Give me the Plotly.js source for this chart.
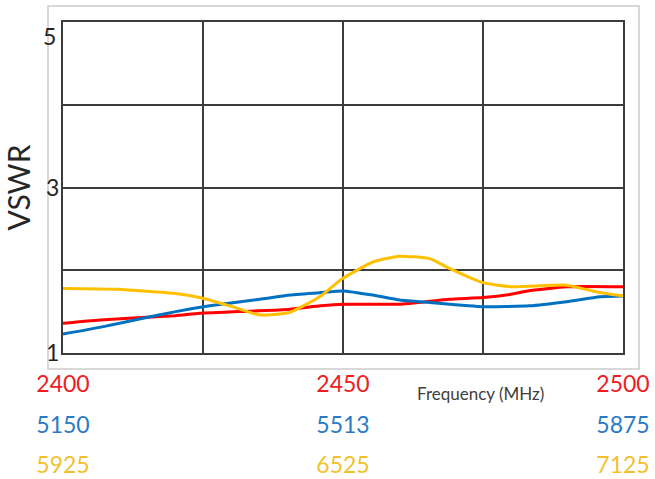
<!DOCTYPE html>
<html>
<head>
<meta charset="utf-8">
<script src="https://cdn.plot.ly/plotly-3.0.1.min.js"></script>
<style>html,body{margin:0;padding:0;background:#fff}#chart{width:655px;height:479px}</style>
</head>
<body>
<div id="chart"></div>
<script>
// 2.4 GHz band (red)
const freq24 = [2400, 2406.6, 2420, 2424.4, 2435, 2440.5, 2446, 2450, 2460, 2469, 2475, 2480, 2483, 2490, 2500];
const vswr24 = [1.36, 1.40, 1.45, 1.48, 1.51, 1.53, 1.57, 1.59, 1.59, 1.65, 1.67, 1.71, 1.75, 1.80, 1.80];
// 5 GHz band (blue)
const freq5 = [5150, 5197.5, 5249, 5296, 5340, 5405, 5444, 5483, 5512.5, 5551, 5586, 5625, 5693.5, 5754, 5802, 5845, 5875];
const vswr5 = [1.23, 1.31, 1.41, 1.50, 1.57, 1.65, 1.70, 1.73, 1.75, 1.70, 1.64, 1.61, 1.56, 1.57, 1.62, 1.68, 1.69];
// 6 GHz band (yellow)
const freq6 = [5925, 6040, 6166, 6218, 6282, 6346, 6410, 6475, 6524, 6589, 6646, 6711, 6754, 6825, 6889, 7004, 7075, 7125];
const vswr6 = [1.78, 1.77, 1.72, 1.67, 1.57, 1.46, 1.49, 1.68, 1.90, 2.10, 2.17, 2.14, 2.02, 1.85, 1.80, 1.82, 1.73, 1.69];

// tick labels
const ticks24 = [2400, 2425, 2450, 2475, 2500];
const tickText24 = ['2400', '', '2450', '', '2500'];
const ticks5 = [5150, 5512.5, 5875];
const tickText5 = ['5150', '5513', '5875'];
const ticks6 = [5925, 6525, 7125];
const tickText6 = ['5925', '6525', '7125'];
const yTicks = [1, 2, 3, 4, 5];
const yTickText = ['1', '', '3', '', ''];
const yTopTick = 5;          // label "5" sits just under the top edge, as in the original
const yTopTickText = '5';

const FONT = 'Lato, "Open Sans", sans-serif';
const RED = '#FF0000', BLUE = '#0070C0', YEL = '#FFC000';
const RED_T = '#EE1D23', BLUE_T = '#2A7AC6', YEL_T = '#F2C22E';

const traces = [
  {x: freq5, y: vswr5, xaxis: 'x2', yaxis: 'y', mode: 'lines', line: {color: BLUE, width: 3, shape: 'spline', smoothing: 0.5}, name: '5 GHz'},
  {x: freq24, y: vswr24, xaxis: 'x', yaxis: 'y', mode: 'lines', line: {color: RED, width: 3, shape: 'spline', smoothing: 0.5}, name: '2.4 GHz'},
  {x: freq6, y: vswr6, xaxis: 'x3', yaxis: 'y', mode: 'lines', line: {color: YEL, width: 3, shape: 'spline', smoothing: 0.5}, name: '6 GHz'}
];

const layout = {
  width: 655, height: 479,
  margin: {l: 63, r: 32, t: 22, b: 0},
  paper_bgcolor: '#fff', plot_bgcolor: '#fff',
  showlegend: false,
  font: {family: FONT, color: '#262626'},
  xaxis: {
    range: [2400, 2500], tickvals: ticks24, ticktext: tickText24,
    showgrid: true, gridcolor: '#3c3c3c', gridwidth: 2,
    showline: true, mirror: true, linecolor: '#3c3c3c', linewidth: 2,
    zeroline: false, ticks: '', ticklabelstandoff: 9,
    tickfont: {family: FONT, size: 23, color: RED_T}, fixedrange: true
  },
  xaxis2: {
    range: [5150, 5875], overlaying: 'x', anchor: 'free', position: 0.153,
    tickvals: ticks5, ticktext: tickText5, showgrid: false, showline: false, zeroline: false, ticks: '',
    tickfont: {family: FONT, size: 23, color: BLUE_T}
  },
  xaxis3: {
    range: [5925, 7125], overlaying: 'x', anchor: 'free', position: 0.0665,
    tickvals: ticks6, ticktext: tickText6, showgrid: false, showline: false, zeroline: false, ticks: '',
    tickfont: {family: FONT, size: 23, color: YEL_T}
  },
  yaxis: {
    domain: [0.2757, 1], range: [1, 5], tickvals: yTicks, ticktext: yTickText,
    showgrid: true, gridcolor: '#3c3c3c', gridwidth: 2,
    showline: true, mirror: true, linecolor: '#3c3c3c', linewidth: 2,
    zeroline: false, ticks: '', ticklabelstandoff: -3,
    tickfont: {family: FONT, size: 23, color: '#262626'},
    title: {text: 'VSWR', font: {family: FONT, size: 30, color: '#262626'}, standoff: 12}
  },
  shapes: [{
    type: 'rect', xref: 'paper', yref: 'paper', layer: 'below',
    x0: -0.0268, x1: 1.0286, y0: 0.2407, y1: 1.035,
    line: {color: '#cccccc', width: 1.5}
  }],
  annotations: [{
    text: 'Frequency (MHz)', xref: 'paper', yref: 'paper', x: 0.745, y: 0.188,
    showarrow: false, xanchor: 'center', yanchor: 'middle',
    font: {family: FONT, size: 17, color: '#404040'}
  }, {
    text: yTopTickText, xref: 'paper', yref: 'y', x: 0, y: yTopTick,
    xanchor: 'right', yanchor: 'top', xshift: -5, yshift: 2, showarrow: false,
    font: {family: FONT, size: 23, color: '#262626'}
  }]
};

Plotly.newPlot('chart', traces, layout, {displayModeBar: false, staticPlot: true});
</script>
</body>
</html>
